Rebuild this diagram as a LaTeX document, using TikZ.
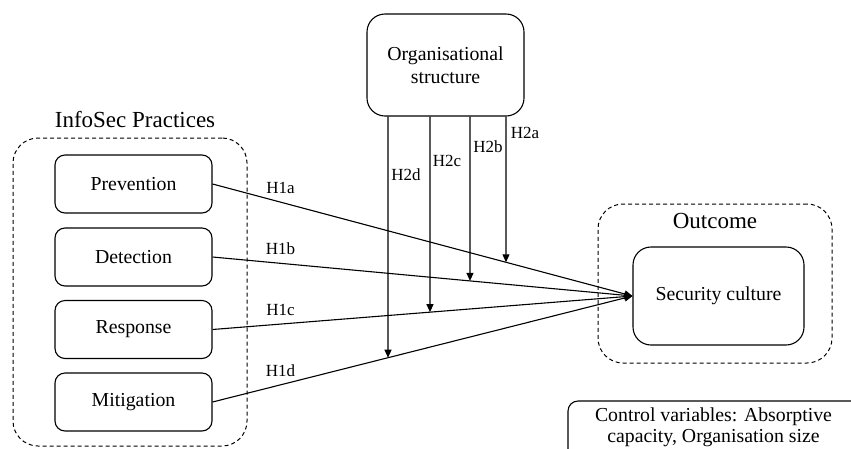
\documentclass[tikz,border=0pt]{standalone}
\usepackage{fontspec}
\setmainfont{Liberation Serif}
\newfontfamily\tnr{Liberation Serif}
\usetikzlibrary{arrows.meta}
\begin{document}
\begin{tikzpicture}[x=1pt,y=-1pt,
  every node/.style={font=\tnr},
  box/.style={draw, line width=1.1pt, rounded corners=10pt, minimum width=157pt,
    minimum height=58pt, font=\tnr\fontsize{19.8}{23}\selectfont, inner sep=0pt, align=center},
  group/.style={draw, dash pattern=on 4pt off 3pt, line width=1pt, rounded corners=25pt,
    inner sep=0pt},
  head/.style={font=\tnr\fontsize{23}{27}\selectfont, inner sep=0pt},
  hyp/.style={font=\tnr\fontsize{17}{20}\selectfont, inner sep=1pt},
  arr/.style={line width=1.1pt, -{Triangle[length=8pt,width=7pt]}},
]
\useasboundingbox (0,0) rectangle (851,448);
\clip (0,0) rectangle (851,448);

% InfoSec practices group
\node[group, minimum width=234pt, minimum height=308pt] (grp) at (130,292) {};
\node[head] (infosec) at (135,120) {InfoSec Practices};
\node[box] (prev) at (133.5,184) {Prevention};
\node[box] (det) at (133.5,257) {Detection};
\node[box] (resp) at (133.5,329.5) {Response};
\node[box] (mit) at (133.5,402) {Mitigation};

% Organisational structure
\node[box, minimum width=157pt, minimum height=102pt, rounded corners=18pt] (org) at (445.5,65)
  {Organisational\\structure};

% Outcome group
\node[group, minimum width=234pt, minimum height=159pt] (outg) at (715,283.5) {};
\node[head] (outc) at (715,221) {Outcome};
\node[box, minimum width=171pt, minimum height=98pt, rounded corners=18pt] (sec) at (718.5,296)
  {Security culture};

% Control variables
\draw[line width=1.1pt, rounded corners=10pt] (568,480) rectangle (900,401);
\node[font=\tnr\fontsize{19.8}{21}\selectfont, align=center, inner sep=0pt] (ctrl) at (713.5,427)
  {Control variables: Absorptive\\capacity, Organisation size};

% H1 paths
\draw[arr] (prev.east) -- node[hyp, pos=0.162, above=7pt] (h1a) {H1a} (sec.west);
\draw[arr] (det.east) -- node[hyp, pos=0.162, above=7pt] (h1b) {H1b} (sec.west);
\draw[arr] (resp.east) -- node[hyp, pos=0.162, above=7pt] (h1c) {H1c} (sec.west);
\draw[arr] (mit.east) -- node[hyp, pos=0.162, above=7pt] (h1d) {H1d} (sec.west);

% moderation points
\coordinate (pe) at (prev.east);
\coordinate (de) at (det.east);
\coordinate (re) at (resp.east);
\coordinate (me) at (mit.east);
\coordinate (sw) at (sec.west);
\coordinate (ta) at (506,0);   \coordinate (ba) at (506,448);
\coordinate (tb) at (470,0);   \coordinate (bb) at (470,448);
\coordinate (tc) at (430,0);   \coordinate (bc) at (430,448);
\coordinate (td) at (388,0);   \coordinate (bd) at (388,448);
\coordinate (ma) at (intersection of pe--sw and ta--ba);
\coordinate (mb) at (intersection of de--sw and tb--bb);
\coordinate (mc) at (intersection of re--sw and tc--bc);
\coordinate (md) at (intersection of me--sw and td--bd);

\draw[arr] (org.south -| ta) -- (ma);
\draw[arr] (org.south -| tb) -- (mb);
\draw[arr] (org.south -| tc) -- (mc);
\draw[arr] (org.south -| td) -- (md);

\node[hyp] (h2a) at (525,133) {H2a};
\node[hyp] (h2b) at (488,147) {H2b};
\node[hyp] (h2c) at (447,161) {H2c};
\node[hyp] (h2d) at (406,175) {H2d};
\end{tikzpicture}
\end{document}
